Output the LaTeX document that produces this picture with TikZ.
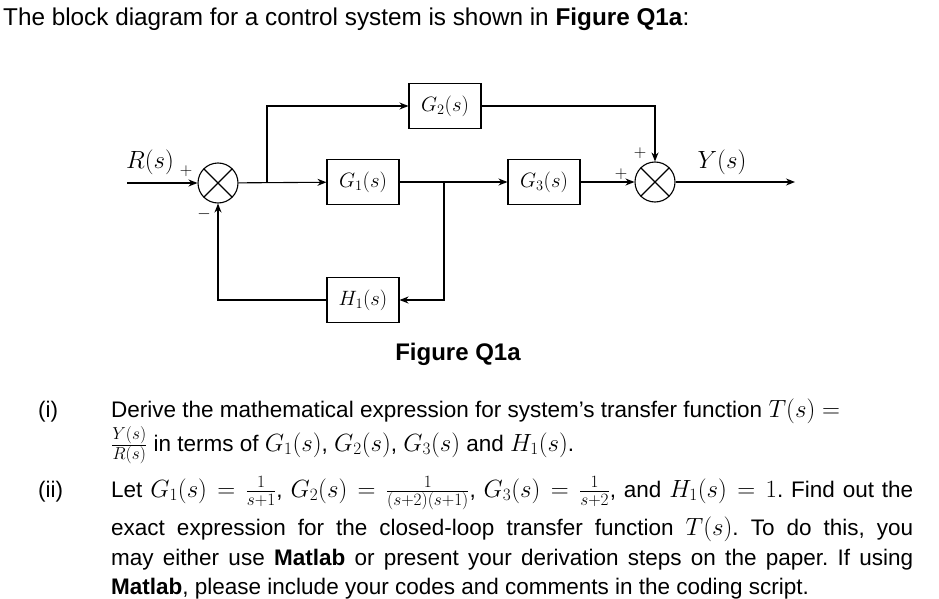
\documentclass[tikz,border=0pt]{standalone}
\usepackage{fontspec}
\setmainfont{Liberation Sans}
\DeclareMathSizes{22.5}{25}{17.5}{12.5}
\usetikzlibrary{arrows.meta}
\begin{document}
\frenchspacing
\begin{tikzpicture}[x=1pt,y=-1pt,
  blk/.style={draw,line width=1.1pt,minimum width=72pt,minimum height=45pt,inner sep=0pt,font=\fontsize{22}{24}\selectfont},
  sumj/.style={draw,circle,line width=1.1pt,minimum size=40pt,inner sep=0pt,
    path picture={\draw[line width=1.1pt] (path picture bounding box.north west) -- (path picture bounding box.south east)
      (path picture bounding box.north east) -- (path picture bounding box.south west);}},
  wire/.style={line width=1.1pt},
  arr/.style={wire,-{Stealth[length=9pt,width=7pt]}},
  sig/.style={font=\fontsize{26}{28}\selectfont,inner sep=0pt},
  sgn/.style={font=\fontsize{17}{18}\selectfont,inner sep=0pt},
  body/.style={anchor=base west,inner sep=0pt,font=\fontsize{22.5}{26}\selectfont}
]
\useasboundingbox (0,0) rectangle (939,599);
\fill[white] (0,0) rectangle (939,599);

\node[body,font=\fontsize{24.3}{28}\selectfont] (title) at (3,26) {The block diagram for a control system is shown in \textbf{Figure Q1a}:};

% diagram
\node[sumj] (s1) at (218,183) {};
\node[sumj] (s2) at (655,182) {};
\node[blk] (g1) at (363,182) {$G_1(s)$};
\node[blk] (g2) at (445,106) {$G_2(s)$};
\node[blk] (g3) at (544,182) {$G_3(s)$};
\node[blk] (h1) at (363,300) {$H_1(s)$};
\coordinate (in) at (127,183);
\coordinate (out) at (795,182);
\coordinate (b1) at (267,183);
\coordinate (b2) at (444,182);
\node[sig] (r) at (150,162) {$R(s)$};
\node[sig] (y) at (722,162) {$Y(s)$};
\node[sgn] (p1) at (186,171) {$+$};
\node[sgn] (m1) at (204,214) {$-$};
\node[sgn] (p2) at (621,174) {$+$};
\node[sgn] (p3) at (640,153) {$+$};

\draw[arr] (in) -- (s1);
\draw[arr] (s1) -- (g1);
\draw[arr] (b1) |- (g2);
\draw[arr] (g1) -- (g3);
\draw[arr] (b2) |- (h1);
\draw[arr] (h1) -| (s1);
\draw[arr] (g3) -- (s2);
\draw[arr] (g2) -| (s2);
\draw[arr] (s2) -- (out);

\node[font=\fontsize{24}{28}\selectfont\bfseries] (cap) at (458,354) {Figure Q1a};

% question text
\node[body] (i) at (38,417) {(i)};
\node[body] (l1) at (111,417) {Derive the mathematical expression for system’s transfer function $T(s) =$};
\node[body] (l2) at (111,451) {$\frac{Y(s)}{R(s)}$ in terms of $G_1(s)$, $G_2(s)$, $G_3(s)$ and $H_1(s)$.};
\node[body] (ii) at (38,497) {(ii)};
\node[body] (l3) at (111,497) {\makebox[802pt][s]{Let $G_1(s)=\frac{1}{s+1}$, $G_2(s)=\frac{1}{(s+2)(s+1)}$, $G_3(s)=\frac{1}{s+2}$, and $H_1(s)=1$. Find out the}};
\node[body] (l4) at (111,535) {\makebox[802pt][s]{exact expression for the closed-loop transfer function $T(s)$. To do this, you}};
\node[body] (l5) at (111,565) {\makebox[802pt][s]{may either use \textbf{Matlab} or present your derivation steps on the paper. If using}};
\node[body] (l6) at (111,594) {\textbf{Matlab}, please include your codes and comments in the coding script.};
\end{tikzpicture}
\end{document}
